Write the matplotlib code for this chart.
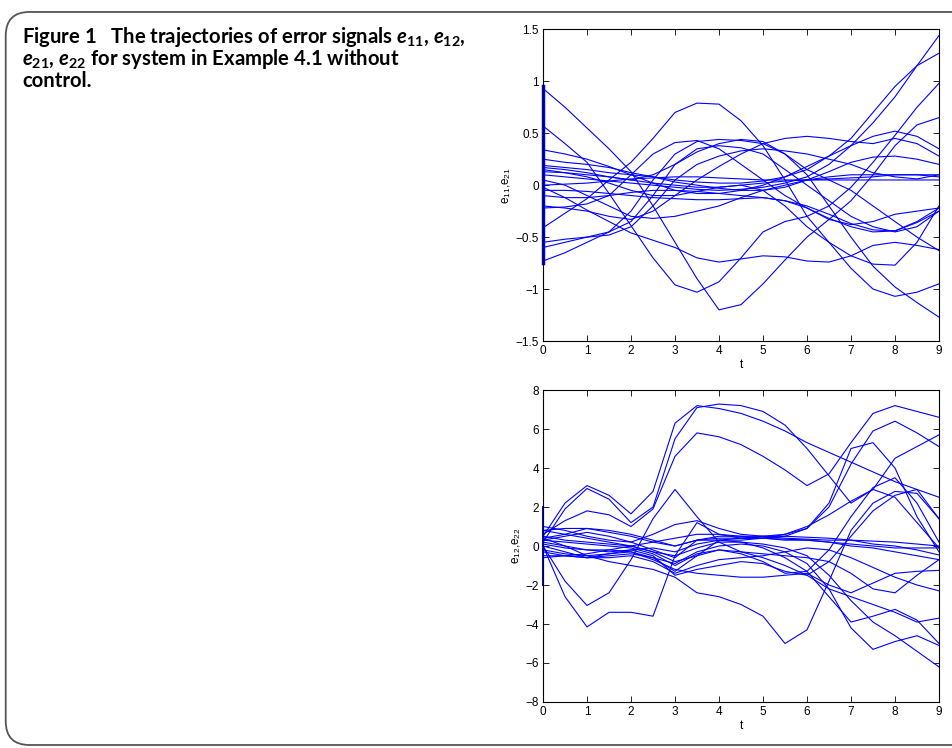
import numpy as np
import matplotlib
matplotlib.use('Agg')
import matplotlib.pyplot as plt
from matplotlib.patches import FancyBboxPatch

# time samples (every 0.5 s)
t = np.arange(0, 9.01, 0.5)

# e11, e21 trajectories
e_top = [
    [0.93, 0.75, 0.55, 0.35, 0.13, -0.2, -0.55, -0.9, -1.2, -1.15, -0.95, -0.72, -0.5, -0.33, -0.15, 0.1, 0.38, 0.58, 0.65],
    [0.57, 0.4, 0.22, -0.08, -0.39, -0.7, -0.96, -1.03, -0.93, -0.7, -0.45, -0.35, -0.3, -0.2, -0.02, 0.22, 0.48, 0.75, 0.98],
    [-0.41, -0.27, -0.13, 0.05, 0.22, 0.45, 0.7, 0.79, 0.78, 0.62, 0.38, 0.05, -0.3, -0.55, -0.8, -1.0, -1.07, -1.03, -0.95],
    [-0.73, -0.65, -0.55, -0.45, -0.25, 0.05, 0.3, 0.42, 0.44, 0.43, 0.4, 0.3, 0.15, 0.05, -0.05, -0.2, -0.35, -0.5, -0.63],
    [-0.6, -0.55, -0.5, -0.45, -0.35, -0.1, 0.2, 0.35, 0.38, 0.36, 0.3, 0.15, 0.0, -0.15, -0.3, -0.4, -0.45, -0.4, -0.25],
    [-0.55, -0.52, -0.5, -0.48, -0.4, -0.2, 0.05, 0.2, 0.28, 0.33, 0.35, 0.33, 0.3, 0.25, 0.2, 0.12, 0.08, 0.06, 0.1],
    [-0.02, -0.12, -0.24, -0.35, -0.46, -0.53, -0.6, -0.7, -0.74, -0.71, -0.68, -0.69, -0.73, -0.74, -0.68, -0.58, -0.55, -0.58, -0.62],
    [0.1, 0.08, 0.06, 0.04, 0.02, 0.0, -0.02, -0.04, -0.05, -0.04, -0.02, 0.02, 0.08, 0.2, 0.38, 0.6, 0.85, 1.15, 1.44],
    [0.19, 0.17, 0.15, 0.12, 0.1, 0.08, 0.05, 0.03, 0.02, 0.02, 0.04, 0.08, 0.15, 0.28, 0.45, 0.7, 0.95, 1.15, 1.27],
    [0.34, 0.3, 0.25, 0.18, 0.1, 0.02, -0.05, -0.08, -0.08, -0.05, 0.0, 0.08, 0.18, 0.28, 0.38, 0.47, 0.52, 0.47, 0.35],
    [-0.2, -0.22, -0.25, -0.3, -0.33, -0.25, -0.1, 0.05, 0.18, 0.3, 0.4, 0.45, 0.47, 0.45, 0.42, 0.4, 0.45, 0.4, 0.28],
    [0.25, 0.22, 0.2, 0.17, 0.12, 0.08, 0.03, 0.0, -0.03, -0.05, -0.05, -0.02, 0.05, 0.13, 0.22, 0.27, 0.28, 0.25, 0.2],
    [0.13, 0.12, 0.1, 0.08, 0.05, 0.02, 0.0, -0.02, -0.02, 0.0, 0.02, 0.04, 0.05, 0.06, 0.07, 0.08, 0.1, 0.1, 0.1],
    [0.0, 0.01, 0.02, 0.04, 0.06, 0.07, 0.08, 0.08, 0.07, 0.06, 0.05, 0.05, 0.05, 0.05, 0.05, 0.05, 0.05, 0.05, 0.05],
    [-0.05, -0.05, -0.06, -0.08, -0.1, -0.12, -0.13, -0.14, -0.14, -0.13, -0.12, -0.15, -0.22, -0.33, -0.38, -0.35, -0.28, -0.25, -0.22],
    [-0.1, -0.12, -0.12, -0.1, -0.07, -0.05, -0.05, -0.06, -0.08, -0.1, -0.12, -0.15, -0.2, -0.28, -0.37, -0.43, -0.44, -0.35, -0.22],
    [-0.22, -0.21, -0.18, -0.1, 0.1, 0.3, 0.41, 0.43, 0.35, 0.2, 0.05, -0.1, -0.22, -0.32, -0.4, -0.45, -0.44, -0.36, -0.25],
    [0.17, 0.15, 0.12, 0.08, 0.05, 0.1, 0.2, 0.32, 0.4, 0.44, 0.42, 0.3, 0.1, -0.2, -0.5, -0.78, -0.98, -1.13, -1.27],
    [0.05, 0.0, -0.1, -0.2, -0.3, -0.32, -0.3, -0.25, -0.2, -0.12, -0.05, 0.0, 0.05, 0.08, 0.1, 0.1, 0.1, 0.1, 0.08],
    [0.15, 0.12, 0.08, 0.02, -0.05, -0.1, -0.1, -0.06, -0.02, 0.0, -0.05, -0.2, -0.4, -0.55, -0.68, -0.76, -0.77, -0.55, -0.2],
]

# e12, e22 trajectories
e_bot = [
    [0.5, 2.2, 3.1, 2.6, 1.65, 2.8, 6.3, 7.2, 7.05, 6.8, 6.4, 5.9, 5.3, 4.8, 4.3, 3.8, 3.3, 2.9, 2.5],
    [0.6, 1.3, 1.8, 1.6, 1.0, 1.9, 4.6, 5.8, 5.6, 5.2, 4.6, 3.9, 3.1, 3.7, 5.3, 6.8, 7.2, 6.9, 6.6],
    [0.2, 1.9, 2.95, 2.4, 1.2, 2.0, 5.5, 7.1, 7.28, 7.2, 6.9, 6.2, 5.0, 3.6, 2.2, 2.9, 4.5, 5.1, 5.7],
    [0.3, 0.5, 0.7, 0.5, 0.2, -0.2, -0.6, 0.3, 0.5, 0.5, 0.4, 0.5, 0.9, 2.0, 4.2, 5.9, 6.4, 5.8, 5.1],
    [-0.2, -0.4, -0.5, -0.4, -0.3, -0.6, -1.3, -0.5, 0.3, 0.4, 0.5, 0.6, 0.9, 2.2, 5.0, 5.3, 4.0, 1.5, -0.3],
    [0.8, 0.6, 0.4, 0.2, 0.0, -0.3, -0.8, -0.5, -0.2, -0.4, -0.8, -1.4, -1.3, -0.2, 1.5, 3.0, 3.5, 2.2, 0.2],
    [0.4, 0.6, 0.9, 0.8, 0.6, 0.3, 0.0, 0.3, 0.3, 0.3, 0.4, 0.6, 1.0, 1.6, 2.3, 2.9, 2.5, 1.2, -0.1],
    [0.0, -0.3, -0.6, -0.4, -0.2, -0.5, -1.5, -1.2, -1.0, -0.8, -0.9, -1.3, -1.5, -0.8, 0.5, 1.8, 2.6, 2.9, 1.4],
    [0.0, -1.8, -3.05, -2.4, -0.7, 1.4, 2.9, 1.5, 0.2, -0.3, -0.4, -0.5, -0.6, -0.8, -1.4, -2.2, -2.4, -1.5, -0.7],
    [0.0, -2.6, -4.15, -3.4, -3.4, -3.6, -0.5, 1.2, 0.6, 0.4, 0.4, 0.3, 0.3, 0.2, 0.1, 0.0, -0.1, -0.1, -0.1],
    [0.4, 0.0, -0.5, -0.8, -1.0, -1.2, -1.6, -2.4, -2.6, -3.0, -3.6, -5.0, -4.3, -1.8, 0.8, 2.2, 2.8, 2.7, 1.4],
    [0.5, 0.3, 0.2, 0.1, 0.0, -0.3, -0.5, -0.1, 0.2, 0.2, 0.1, -0.1, -0.5, -1.5, -2.8, -3.9, -4.6, -5.4, -6.2],
    [-0.3, -0.5, -0.6, -0.5, -0.4, -0.6, -0.9, -0.3, 0.0, 0.1, 0.0, -0.3, -0.9, -2.2, -4.2, -5.3, -4.9, -4.6, -5.1],
    [0.2, 0.0, -0.2, -0.3, -0.2, -0.1, -0.3, 0.1, 0.3, 0.2, -0.1, -0.6, -1.3, -2.6, -3.9, -3.6, -3.25, -3.8, -5.0],
    [0.3, 0.2, 0.1, 0.0, -0.1, -0.4, -1.0, -0.4, -0.2, -0.3, -0.6, -1.0, -1.5, -2.2, -2.6, -3.0, -3.4, -3.9, -3.7],
    [-0.5, -0.5, -0.6, -0.6, -0.5, -0.8, -1.4, -1.0, -0.7, -0.6, -0.5, -0.3, -0.1, -0.2, -0.6, -1.1, -1.6, -2.0, -2.3],
    [0.1, -0.1, -0.2, -0.2, -0.3, -0.7, -1.2, -1.4, -1.5, -1.6, -1.6, -1.5, -1.4, -2.0, -2.4, -1.9, -1.4, -1.3, -1.25],
    [0.8, 0.9, 0.9, 0.7, 0.5, 0.2, 0.0, 0.3, 0.4, 0.4, 0.4, 0.35, 0.3, 0.2, 0.0, -0.1, -0.3, -0.5, -0.7],
    [-0.6, -0.5, -0.4, -0.2, 0.0, 0.2, 0.4, 0.6, 0.6, 0.5, 0.5, 0.5, 0.45, 0.4, 0.3, 0.1, 0.0, -0.2, -0.46],
    [1.0, 0.8, 0.5, 0.3, 0.2, 0.6, 1.1, 1.3, 0.9, 0.6, 0.5, 0.4, 0.35, 0.3, 0.3, 0.25, 0.2, 0.1, 0.0],
]

# initial-history jump drawn at t = 0 (range of the history values)
top_jump = [-0.75, 0.95]
bot_jump = [-2.0, 2.0]

x_ticks = list(range(0, 10))
top_ticks = [-1.5, -1, -0.5, 0, 0.5, 1, 1.5]
top_labels = ['\u22121.5', '\u22121', '\u22120.5', '0', '0.5', '1', '1.5']
bot_ticks = [-8, -6, -4, -2, 0, 2, 4, 6, 8]
bot_labels = ['\u22128', '\u22126', '\u22124', '\u22122', '0', '2', '4', '6', '8']

plt.rcParams['font.family'] = ['Liberation Sans', 'DejaVu Sans']
plt.rcParams['mathtext.fontset'] = 'custom'
plt.rcParams['mathtext.rm'] = 'Lato:bold'
plt.rcParams['mathtext.it'] = 'Lato:bold:italic'

fig = plt.figure(figsize=(9.53, 7.48), dpi=100)

# rounded frame around the figure panel
frame = FancyBboxPatch((0.006, 0.004), 1.1, 0.98, boxstyle='round,pad=0,rounding_size=0.025',
                       transform=fig.transFigure, facecolor='none', edgecolor='#555555',
                       linewidth=1.3, mutation_aspect=953 / 748, zorder=-1)
fig.patches.append(frame)

# caption
cap_props = dict(fontsize=14.6, fontweight='bold', family=['Lato', 'DejaVu Sans'], va='baseline')
fig.text(0.023, 0.943, r'Figure 1   The trajectories of error signals $e_{\mathrm{11}}$, $e_{\mathrm{12}}$,', **cap_props)
fig.text(0.023, 0.913, r'$e_{\mathrm{21}}$, $e_{\mathrm{22}}$ for system in Example 4.1 without', **cap_props)
fig.text(0.023, 0.884, 'control.', **cap_props)


def style_axes(ax, yticks, ylabels, ylim):
    ax.set_xlim(0, 9)
    ax.set_ylim(*ylim)
    ax.set_xticks(x_ticks)
    ax.set_yticks(yticks)
    ax.set_yticklabels(ylabels)
    ax.tick_params(direction='in', top=True, right=True, length=4, width=0.6,
                   labelsize=8.5, pad=3)
    for s in ax.spines.values():
        s.set_linewidth(0.8)
    ax.set_xlabel('t', fontsize=8.5, labelpad=1)


ax1 = fig.add_axes([0.5698, 0.5441, 0.4155, 0.4167])
for y in e_top:
    ax1.plot(t, y, color='#0000ff', linewidth=0.8)
ax1.plot([0, 0], top_jump, color='#0000ff', linewidth=2.5, clip_on=False)
style_axes(ax1, top_ticks, top_labels, (-1.5, 1.5))
ax1.set_ylabel(r'e$_{\mathregular{11}}$,e$_{\mathregular{21}}$', fontsize=8.5, labelpad=2)

ax2 = fig.add_axes([0.5698, 0.0615, 0.4155, 0.4171])
for y in e_bot:
    ax2.plot(t, y, color='#0000ff', linewidth=0.8)
ax2.plot([0, 0], bot_jump, color='#0000ff', linewidth=1.5, clip_on=False)
style_axes(ax2, bot_ticks, bot_labels, (-8, 8))
ax2.set_ylabel(r'e$_{\mathregular{12}}$,e$_{\mathregular{22}}$', fontsize=8.5, labelpad=2)

fig.savefig('out.png', dpi=100)
